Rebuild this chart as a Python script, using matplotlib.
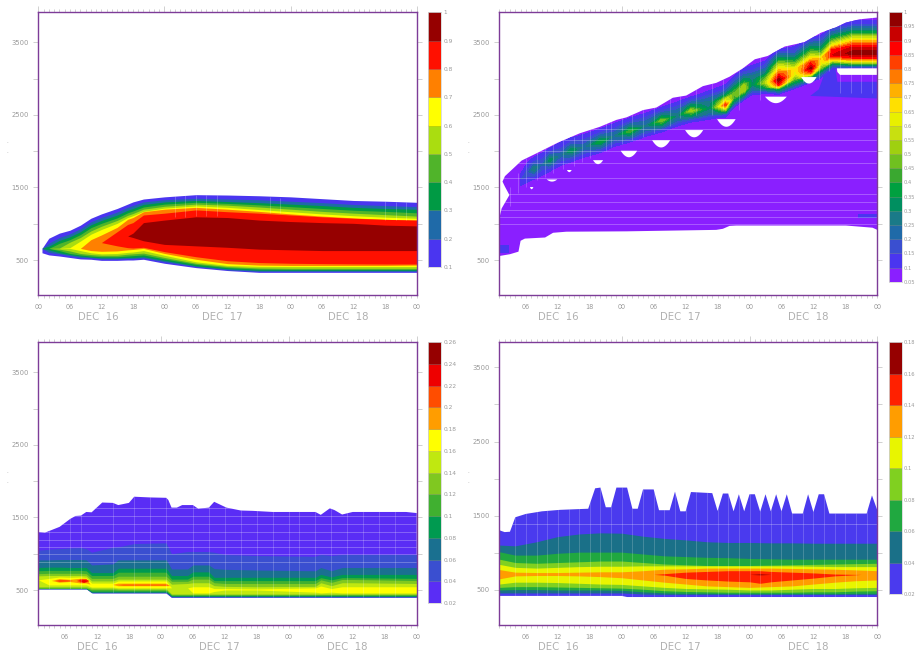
import numpy as np
from matplotlib import pyplot as plt
from matplotlib.ticker import FixedLocator, NullFormatter

# hours since Dec 16 00, heights in metres
nan = float('nan')

# ---- top left
p1_levels = [0.1, 0.2, 0.3, 0.4, 0.5, 0.6, 0.7, 0.8, 0.9, 1]
p1_colors = ['#4a35f0', '#1f6aa8', '#009a44', '#50b42a', '#aadd10',
             '#ffff00', '#ff8000', '#ff1000', '#960000']
p1_times = [0.7, 2, 4, 6, 8, 10, 12, 15, 17, 18, 20, 24, 30, 36, 42, 48, 54, 60, 66, 72]
p1_upper = [
    [660, 800, 870, 910, 980, 1075, 1135, 1210, 1270, 1300, 1340, 1370, 1400, 1395, 1385, 1370, 1345, 1320, 1310, 1295],
    [660, 730, 810, 860, 930, 1025, 1085, 1160, 1225, 1250, 1300, 1330, 1350, 1340, 1330, 1310, 1290, 1265, 1250, 1235],
    [660, 690, 770, 820, 890, 985, 1045, 1120, 1185, 1210, 1265, 1300, 1320, 1305, 1290, 1270, 1250, 1225, 1210, 1200],
    [660, 660, 730, 780, 850, 945, 1005, 1080, 1150, 1175, 1230, 1270, 1295, 1280, 1260, 1235, 1210, 1185, 1170, 1150],
    [660, 660, 665, 745, 810, 900, 965, 1045, 1115, 1140, 1200, 1240, 1270, 1255, 1230, 1200, 1170, 1145, 1125, 1105],
    [660, 660, 660, 670, 760, 855, 920, 1005, 1085, 1110, 1170, 1215, 1245, 1225, 1195, 1165, 1135, 1110, 1090, 1075],
    [660, 660, 660, 660, 660, 780, 845, 950, 1060, 1085, 1165, 1200, 1225, 1200, 1170, 1135, 1105, 1080, 1060, 1050],
    [740, 740, 740, 740, 740, 740, 740, 890, 990, 1015, 1120, 1145, 1190, 1165, 1145, 1120, 1095, 1075, 1060, 1050],
    [830, 830, 830, 830, 830, 830, 830, 830, 830, 870, 1015, 1050, 1095, 1085, 1050, 1030, 1015, 1005, 980, 970],
]
p1_lower = [
    [600, 570, 555, 535, 515, 510, 495, 495, 500, 500, 510, 455, 395, 355, 330, 330, 330, 330, 330, 330],
    [660, 605, 585, 560, 535, 530, 515, 515, 520, 520, 530, 477, 410, 365, 345, 345, 345, 345, 345, 345],
    [660, 640, 600, 575, 555, 540, 530, 530, 535, 535, 545, 495, 420, 380, 358, 358, 358, 358, 358, 358],
    [660, 660, 630, 590, 570, 555, 545, 545, 555, 560, 570, 515, 440, 395, 375, 370, 370, 370, 370, 370],
    [660, 660, 650, 625, 590, 575, 565, 565, 580, 585, 595, 535, 455, 410, 390, 385, 385, 385, 385, 385],
    [660, 660, 660, 660, 630, 600, 585, 590, 605, 610, 630, 565, 475, 425, 412, 410, 410, 410, 410, 410],
    [660, 660, 660, 660, 660, 630, 620, 625, 640, 645, 660, 590, 510, 450, 430, 425, 425, 425, 425, 430],
    [740, 740, 740, 740, 740, 740, 740, 695, 670, 665, 675, 615, 545, 490, 465, 455, 450, 447, 445, 445],
    [830, 830, 830, 830, 830, 830, 830, 830, 830, 810, 765, 715, 695, 675, 650, 640, 630, 630, 630, 630],
]

# ---- top right
p2_levels = [0.05, 0.1, 0.15, 0.2, 0.25, 0.3, 0.35, 0.4, 0.45, 0.5, 0.55, 0.6,
             0.65, 0.7, 0.75, 0.8, 0.85, 0.9, 0.95, 1]
p2_colors = ['#8a1fff', '#4a35f0', '#3a4fd0', '#1f6aa8', '#1a7a88', '#008f60',
             '#00a040', '#3aa830', '#70c020', '#9fd010', '#c8e010', '#e8f000',
             '#ffe000', '#ffb000', '#ff7a00', '#ff4000', '#ff0000', '#c80000', '#900000']
# outline of the whole cloud, walked round from bottom left
p2_outline_t = [1, 1, 1.44, 2.9, 2.06, 1.6, 2.06, 3.6, 5.2, 8, 12.1, 16.1, 19.9, 23, 24.9,
                28, 30.5, 33.6, 36.1, 39.25, 41.75, 44.25, 46.75, 49, 51.4, 54.6, 58.3,
                61.4, 64.25, 66.1, 68.6, 72, 72, 71.1, 68.6, 66.1, 45.5, 44.25, 43, 41.75,
                24.9, 13.6, 11.1, 9.6, 5.8, 5, 4.6, 3]
p2_outline_h = [555, 1075, 1210, 1395, 1510, 1580, 1655, 1760, 1870, 1970, 2120, 2245, 2335,
                2430, 2465, 2565, 2600, 2735, 2765, 2895, 2940, 3025, 3140, 3265, 3310, 3440,
                3500, 3630, 3705, 3770, 3815, 3840, 915, 945, 960, 975, 975, 970, 930, 915,
                895, 890, 875, 810, 795, 765, 615, 580]
# ridge of higher values, stored as height above the ridge centre
p2_ridge_t = [5, 6.5, 7.5, 9, 10.5, 12.5, 14.5, 17, 20, 22.5, 25.5, 28.5, 31.5, 34.5, 37, 40.5,
              42, 43.5, 45, 47, 48.5, 51, 53.5, 56.5, 59.5, 61.5, 63.5, 67.5, 72]
p2_ridge_h = [1600, 1715, 1755, 1810, 1875, 1945, 2005, 2060, 2130, 2205, 2275, 2345, 2420, 2490,
              2555, 2590, 2610, 2635, 2725, 2840, 2910, 2940, 2980, 3060, 3145, 3210, 3325, 3350, 3350]
p2_ridge_off = [-300, -200, -130, -70, 0, 70, 130, 200, 300, 400, 500]
p2_ridge = [
    [.05, .05, .06, .10, .14, .11, .07, .05, .05, .05, .05],
    [.05, .05, .10, .14, .20, .14, .11, .06, .05, .05, .05],
    [.05, .05, .11, .19, .30, .19, .12, .07, .05, .05, .05],
    [.05, .05, .11, .15, .20, .15, .12, .07, .05, .05, .05],
    [.05, .05, .12, .21, .33, .21, .13, .07, .05, .05, .05],
    [.05, .05, .11, .16, .22, .16, .13, .08, .05, .05, .05],
    [.05, .05, .12, .22, .35, .22, .14, .08, .05, .05, .05],
    [.05, .05, .11, .17, .23, .17, .13, .08, .05, .05, .05],
    [.05, .05, .12, .24, .40, .24, .14, .08, .05, .05, .05],
    [.05, .05, .11, .18, .24, .18, .13, .08, .05, .05, .05],
    [.05, .05, .12, .26, .44, .26, .15, .08, .05, .05, .05],
    [.05, .05, .11, .19, .25, .20, .14, .08, .05, .05, .05],
    [.05, .05, .13, .29, .50, .29, .16, .08, .05, .05, .05],
    [.05, .05, .11, .20, .27, .21, .15, .09, .05, .05, .05],
    [.05, .05, .13, .32, .54, .33, .17, .09, .05, .05, .05],
    [.05, .05, .12, .23, .30, .27, .22, .13, .06, .05, .05],
    [.05, .05, .12, .30, .55, .42, .25, .15, .07, .05, .05],
    [.05, .05, .15, .50, .85, .60, .35, .18, .08, .05, .05],
    [.05, .05, .10, .25, .42, .45, .35, .22, .10, .05, .05],
    [.05, .05, .10, .30, .55, .52, .35, .22, .10, .05, .05],
    [.05, .05, .10, .20, .30, .28, .25, .15, .08, .05, .05],
    [.05, .05, .12, .35, .55, .45, .30, .20, .10, .05, .05],
    [.05, .08, .35, .85, .98, .85, .72, .58, .33, .12, .05],
    [.05, .09, .30, .45, .60, .65, .50, .35, .18, .08, .05],
    [.05, .09, .35, .80, .97, .85, .68, .50, .30, .12, .05],
    [.05, .09, .25, .45, .62, .68, .50, .35, .20, .08, .05],
    [.05, .08, .30, .65, .90, .85, .65, .45, .22, .10, .05],
    [.05, .10, .55, .85, .98, .92, .80, .62, .33, .13, .06],
    [.05, .10, .55, .85, .98, .92, .80, .62, .33, .13, .06],
]
# white gaps under the ridge
p2_gap_start = [6.75, 9.9, 13.7, 18.6, 23.8, 29.7, 35.9, 41.9, 50.9, 57.7]
p2_gap_end = [7.4, 11.9, 14.6, 20.5, 26.9, 33.1, 39.3, 45.4, 55, 60.6]
p2_gap_top = [1505, 1610, 1740, 1875, 2005, 2150, 2290, 2440, 2750, 3020]
p2_gap_bottom = [1475, 1580, 1710, 1820, 1915, 2050, 2190, 2335, 2660, 2930]
p2_plateau_t = [64.4, 72, 72, 65, 64.5]
p2_plateau_h = [3140, 3140, 3050, 3050, 3090]
# blue 0.1-0.15 patches inside the purple
p2_blue_t = [[1, 2.9], [68.3, 72]]
p2_blue_upper = [[705, 705], [1140, 1140]]
p2_blue_lower = [[600, 600], [1075, 1075]]
p2_shelf_t = [59.4, 61, 62, 63, 64.1, 64.5, 72, 72]
p2_shelf_h = [2760, 2850, 3050, 3200, 3150, 2955, 2955, 2725]

# ---- bottom left
p3_levels = [0.02, 0.04, 0.06, 0.08, 0.1, 0.12, 0.14, 0.16, 0.18, 0.2, 0.22, 0.24, 0.26]
p3_colors = ['#5a2df5', '#3a4fd0', '#1a7090', '#009a50', '#40b030', '#80c820',
             '#c0e810', '#ffff00', '#ff9d00', '#ff4d00', '#ee0000', '#960000']
p3_outline_t = [1, 2.25, 5, 7, 8, 9, 10, 11, 13, 15, 16, 18, 19, 22, 25, 25.4, 26, 27, 28, 30, 31,
                33, 34, 36.3, 39, 41.3, 45, 53, 54, 55.7, 56.6, 58, 60, 70, 72,
                72, 26, 25, 11.3, 10.4, 1]
p3_outline_h = [1300, 1290, 1370, 1480, 1520, 1525, 1575, 1570, 1705, 1700, 1670, 1700, 1785, 1775,
                1770, 1740, 1635, 1635, 1670, 1670, 1620, 1635, 1715, 1635, 1595, 1590, 1575, 1575,
                1535, 1625, 1600, 1540, 1575, 1575, 1560,
                395, 395, 455, 455, 510, 510]
p3_times = [1, 3, 5, 7, 9, 10, 11, 15, 16, 19, 25, 26, 29, 30, 33, 34, 36, 42, 53, 54, 56, 58, 60, 72]
p3_upper = [
    [1050, 1060, 1070, 1080, 1085, 1070, 1020, 1090, 1095, 1140, 1150, 1000, 1030, 1030, 1030, 1020, 990, 975, 965, 990, 975, 990, 990, 990],
    [915, 915, 920, 920, 920, 915, 845, 860, 915, 915, 915, 790, 790, 845, 845, 795, 785, 775, 765, 810, 765, 810, 810, 810],
    [810, 815, 815, 810, 810, 810, 740, 740, 800, 800, 800, 700, 700, 750, 750, 675, 675, 675, 675, 715, 680, 715, 715, 715],
    [765, 770, 770, 770, 770, 765, 700, 700, 745, 745, 745, 650, 650, 690, 690, 630, 630, 630, 630, 670, 640, 670, 670, 660],
    [725, 730, 730, 730, 730, 725, 660, 660, 690, 690, 690, 620, 620, 650, 650, 600, 590, 590, 590, 640, 605, 645, 645, 630],
    [695, 700, 700, 700, 700, 695, 625, 625, 650, 650, 650, 580, 590, 600, 600, 560, 550, 545, 550, 600, 560, 600, 600, 590],
    [640, 660, 680, 675, 680, 670, 595, 595, 625, 625, 625, 530, 530, 545, 545, 520, 520, 515, 530, 555, 520, 545, 545, 545],
]
p3_lower = [
    [515, 515, 515, 515, 515, 515, 460, 460, 460, 460, 460, 400, 400, 400, 400, 400, 400, 400, 400, 400, 400, 400, 400, 400],
    [518, 518, 518, 518, 518, 518, 465, 465, 465, 465, 465, 410, 410, 410, 410, 410, 410, 410, 410, 410, 410, 410, 410, 410],
    [520, 520, 520, 520, 520, 520, 475, 475, 475, 475, 475, 415, 415, 415, 415, 415, 415, 415, 415, 415, 415, 415, 415, 415],
    [522, 522, 522, 522, 522, 522, 485, 485, 485, 485, 485, 425, 425, 425, 425, 425, 425, 425, 425, 425, 425, 425, 425, 425],
    [530, 530, 530, 530, 530, 530, 505, 505, 500, 500, 500, 435, 435, 435, 435, 435, 435, 435, 435, 435, 435, 435, 435, 435],
    [545, 545, 545, 545, 545, 545, 525, 525, 515, 515, 515, 445, 445, 445, 445, 445, 445, 445, 445, 445, 445, 445, 445, 445],
    [640, 570, 570, 570, 570, 570, 540, 540, 530, 530, 530, 530, 530, 460, 460, 480, 500, 500, 470, 460, 470, 460, 460, 460],
]
# warm levels exist only in short stretches, nan breaks the stretch
p3_warm_t = [
    [3.5, 5, 7, 9, 10, 10.8, nan, 15, 16, 25, 25.8],
    [4.2, 5, 6.5, 7.5, nan, 8.2, 9, 10, 10.6, nan, 16, 17, 25, 25.5],
    [8.5, 9.5, 10.4],
]
p3_warm_upper = [
    [625, 650, 640, 655, 655, 575, nan, 570, 588, 588, 555],
    [625, 640, 635, 625, nan, 625, 650, 650, 620, nan, 568, 574, 574, 562],
    [635, 645, 635],
]
p3_warm_lower = [
    [625, 600, 610, 590, 590, 575, nan, 570, 552, 552, 555],
    [625, 610, 615, 625, nan, 625, 600, 600, 620, nan, 568, 562, 562, 562],
    [635, 605, 635],
]

# ---- bottom right
p4_levels = [0.02, 0.04, 0.06, 0.08, 0.1, 0.12, 0.14, 0.16, 0.18]
p4_colors = ['#4a3aee', '#1a7088', '#20a840', '#80d020', '#e8f500', '#ff9d00', '#ff2000', '#960000']
p4_outline_t = [1, 2, 3, 4, 6, 9, 12.4, 17.7, 19, 20, 21, 22, 23, 25, 26, 27, 28, 30, 31, 33, 34, 35, 36,
                37, 41, 42, 43, 44, 45, 46, 47, 48, 49, 50, 51, 52, 53, 54, 55, 56, 58, 59, 60, 61, 62,
                63, 70, 71, 72, 72, 25, 24, 1]
p4_outline_h = [1305, 1280, 1285, 1480, 1525, 1560, 1580, 1595, 1870, 1880, 1615, 1615, 1880, 1880, 1595,
                1595, 1855, 1855, 1575, 1575, 1825, 1560, 1560, 1820, 1805, 1565, 1800, 1800, 1560, 1790,
                1560, 1790, 1790, 1555, 1790, 1560, 1790, 1560, 1790, 1530, 1530, 1790, 1550, 1790, 1790,
                1530, 1530, 1775, 1575, 405, 405, 420, 420]
p4_times = [1, 4, 8, 12, 16, 20, 24, 28, 32, 36, 40, 44, 48, 52, 56, 60, 64, 68, 72]
p4_upper = [
    [1105, 1095, 1150, 1220, 1255, 1270, 1265, 1225, 1195, 1175, 1150, 1140, 1140, 1135, 1135, 1130, 1130, 1130, 1130],
    [1015, 970, 970, 995, 1010, 1010, 1010, 985, 960, 950, 940, 935, 925, 920, 915, 915, 915, 915, 915],
    [915, 870, 860, 870, 880, 890, 890, 870, 850, 840, 830, 830, 830, 835, 840, 845, 850, 855, 860],
    [845, 805, 795, 805, 815, 820, 820, 825, 825, 825, 825, 825, 825, 825, 825, 820, 815, 815, 815],
    [775, 740, 735, 735, 740, 745, 745, 760, 780, 785, 795, 795, 795, 795, 790, 785, 780, 770, 760],
]
p4_lower = [
    [460, 460, 460, 460, 460, 460, 460, 445, 440, 440, 440, 440, 440, 440, 440, 440, 440, 440, 440],
    [500, 505, 505, 500, 500, 500, 495, 475, 460, 455, 455, 450, 450, 450, 450, 450, 450, 455, 455],
    [535, 545, 545, 540, 535, 530, 525, 510, 490, 480, 475, 470, 470, 470, 470, 475, 475, 485, 490],
    [580, 605, 605, 600, 590, 580, 575, 555, 535, 520, 515, 510, 500, 500, 510, 520, 520, 530, 535],
    [650, 690, 695, 695, 690, 680, 665, 635, 605, 580, 555, 545, 535, 545, 555, 580, 605, 625, 635],
]
p4_red_t = [30, 32, 36, 40, 44, 48, 50, 52, 56, 60, 64, 68, 69]
p4_red_upper = [710, 720, 740, 750, 760, 760, 760, 750, 740, 730, 715, 710, 710]
p4_red_lower = [710, 700, 655, 635, 620, 610, 590, 610, 635, 660, 690, 705, 710]
p4_dark_t = [48, 50, 52]
p4_dark_upper = [710, 718, 710]
p4_dark_lower = [710, 704, 710]

# faint lines left by the plotting package between its polygons
p1_seams_t = [26, 28, 30, 32, 34, 44, 46, 66, 68, 70]
p1_seams_lo = [1090, 1090, 1100, 1100, 1100, 1150, 1150, 1050, 1050, 1050]
p1_seams_hi = [1380, 1390, 1400, 1400, 1395, 1370, 1360, 1310, 1305, 1300]
p2_seams = [2300, 2153, 1997, 1830, 1630, 1405, 1294, 1189, 1097, 996]
p2_seams_t = [3, 4.5, 6, 8, 9.5, 11, 13, 15, 16.5, 18, 21, 22, 24, 26, 28, 30, 33, 35, 38, 41, 43,
              46, 50, 53, 55, 58, 61, 63, 65, 67, 69, 71]
p2_seams_lo = [1250, 1420, 1500, 1600, 1650, 1700, 1750, 1800, 1850, 1900, 2000, 2050, 2100, 2150, 2200,
               2250, 2350, 2450, 2500, 2500, 2560, 2560, 2700, 2850, 2900, 2950, 3000, 3100, 2800, 2800,
               2800, 2800]
p2_seams_hi = [1500, 1700, 1900, 2000, 2050, 2100, 2150, 2200, 2250, 2300, 2400, 2450, 2500, 2550, 2600,
               2650, 2750, 2800, 2900, 2950, 3000, 3150, 3300, 3400, 3500, 3600, 3700, 3750, 3800, 3800,
               3850, 3850]
p3_seams = [1630, 1520, 1405, 1295, 1190, 1095, 996, 890]
p4_seams = [1385]
p3_seams_t = [3, 7, 9, 15, 19, 22, 25, 30, 33, 36, 39, 42, 45, 48, 50, 53, 56, 59, 62, 65, 68]
p4_seams_t = [4, 6, 8, 10, 12, 14, 16, 18, 20, 22, 24, 26, 28, 30, 32, 34, 36, 38, 40, 42, 44, 46,
              48, 50, 52, 54, 56, 58, 60, 62, 64, 66, 68, 70]

y_ticks = [500, 1000, 1500, 2000, 2500, 3000, 3500]
y_labels = ['500', '', '1500', '', '2500', '', '3500']
day_names = ['DEC  16', 'DEC  17', 'DEC  18']
day_centres = [[11.5, 35, 59], [12, 35, 59], [12, 35, 59], [12, 35, 59]]

W, H = 916, 653
FRAME = '#7d3c98'
TICK = '#bdbdbd'
TEXT = '#9a9a9a'


def make_axes(fig, box, t0, ylim):
    # box is left, top, right, bottom in pixels of the image
    l, t, r, b = box
    ax = fig.add_axes([l / W, 1 - b / H, (r - l) / W, (b - t) / H])
    ax.set_xlim(t0, 72)
    ax.set_ylim(*ylim)
    for s in ax.spines.values():
        s.set_color(FRAME)
        s.set_linewidth(1.0)
    ax.set_xticks(np.arange(0, 73, 6)[np.arange(0, 73, 6) >= t0])
    ax.set_xticklabels(['%02d' % (h % 24) for h in ax.get_xticks()])
    ax.xaxis.set_minor_locator(FixedLocator(np.arange(t0, 73)))
    ax.tick_params(axis='x', which='both', length=2.2, width=0.5, color=TICK, labelsize=4.7,
                   labelcolor=TEXT, pad=4.2)
    ax.set_yticks(y_ticks)
    ax.set_yticklabels(y_labels)
    ax.tick_params(axis='y', length=3.8, width=0.5, color=TICK, labelsize=4.9, labelcolor=TEXT,
                   pad=3, right=True)
    top = ax.secondary_xaxis('top')
    top.set_xticks([0, 24, 48, 72])
    top.xaxis.set_minor_locator(FixedLocator(np.arange(t0, 73)))
    top.xaxis.set_major_formatter(NullFormatter())
    top.tick_params(which='major', length=4.3, width=0.5, color=TICK)
    top.tick_params(which='minor', length=2.2, width=0.5, color=TICK)
    top.spines['top'].set_visible(False)
    return ax


def day_labels(ax, centres):
    for name, c in zip(day_names, centres):
        ax.annotate(name, xy=(c, 0), xycoords=('data', 'axes fraction'), xytext=(0, -15.8),
                    textcoords='offset points', ha='center', va='center', fontsize=7.3, color='#b0b0b0')


def colorbar(fig, box, levels, colors, labelsize=4.2, pad=2):
    l, t, r, b = box
    cax = fig.add_axes([l / W, 1 - b / H, (r - l) / W, (b - t) / H])
    cax.bar([0] * len(colors), np.diff(levels), bottom=levels[:-1], width=1, align='edge', color=colors,
            edgecolor='#00000033', linewidth=0.4)
    cax.set_xlim(0, 1)
    cax.set_ylim(levels[0], levels[-1])
    cax.set_xticks([])
    cax.yaxis.tick_right()
    cax.set_yticks(levels)
    cax.set_yticklabels(['%g' % v for v in levels])
    cax.tick_params(axis='y', length=0, labelsize=labelsize, labelcolor=TEXT, pad=pad)
    for s in cax.spines.values():
        s.set_color('#cfcfcf')
        s.set_linewidth(0.5)
    return cax


def bands(ax, times, upper, lower, colors):
    for up, lo, c in zip(upper, lower, colors):
        ax.fill_between(times, lo, up, color=c, linewidth=0)


def seams(ax, patch, heights, hours):
    for h in heights:
        ax.axhline(h, color='white', alpha=0.3, lw=0.6, clip_path=patch)
    for t in hours:
        ax.axvline(t, color='white', alpha=0.22, lw=0.6, clip_path=patch)


fig = plt.figure(figsize=(W / 100, H / 100), dpi=100)

# top left
ax1 = make_axes(fig, (38.3, 12.3, 416.7, 295), 0, (18, 3912))
bands(ax1, p1_times, p1_upper, p1_lower, p1_colors)
ax1.vlines(p1_seams_t, p1_seams_lo, p1_seams_hi, colors='white', alpha=0.25, lw=0.6)
day_labels(ax1, day_centres[0])
colorbar(fig, (428, 12.3, 440.7, 267), p1_levels, p1_colors)

# top right
ax2 = make_axes(fig, (499.3, 12.3, 877.3, 295), 1, (18, 3912))
cloud2 = ax2.fill(p2_outline_t, p2_outline_h, color=p2_colors[0], linewidth=0)[0]
for t, up, lo in zip(p2_blue_t, p2_blue_upper, p2_blue_lower):
    ax2.fill_between(t, lo, up, color=p2_colors[1], linewidth=0)
ax2.fill(p2_shelf_t, p2_shelf_h, color=p2_colors[1], linewidth=0)
seams(ax2, cloud2, p2_seams, [])
ridge_x = np.tile(np.array(p2_ridge_t)[:, None], (1, len(p2_ridge_off)))
ridge_y = np.array(p2_ridge_h)[:, None] + np.array(p2_ridge_off)[None, :]
ridge = ax2.contourf(ridge_x, ridge_y, np.array(p2_ridge), levels=p2_levels[1:], colors=p2_colors[1:])
ridge.set_clip_path(cloud2)
ax2.vlines(p2_seams_t, p2_seams_lo, p2_seams_hi, colors='white', alpha=0.25, lw=0.6, clip_path=cloud2)
for t0, t1, top, bot in zip(p2_gap_start, p2_gap_end, p2_gap_top, p2_gap_bottom):
    s = np.linspace(-1, 1, 15)
    ax2.fill((t0 + t1) / 2 + s * (t1 - t0) / 2, bot + (top - bot) * s ** 2, color='white', linewidth=0)
ax2.fill(p2_plateau_t, p2_plateau_h, color='white', linewidth=0)
day_labels(ax2, day_centres[1])
colorbar(fig, (889, 12.3, 901.7, 281.7), p2_levels, p2_colors, 3.7, 1.5)

# bottom left
ax3 = make_axes(fig, (38.3, 342.3, 416.7, 625), 1, (18, 3912))
cloud3 = ax3.fill(p3_outline_t, p3_outline_h, color=p3_colors[0], linewidth=0)[0]
bands(ax3, p3_times, p3_upper, p3_lower, p3_colors[1:])
for t, up, lo, c in zip(p3_warm_t, p3_warm_upper, p3_warm_lower, p3_colors[8:]):
    ax3.fill_between(t, lo, up, color=c, linewidth=0)
seams(ax3, cloud3, p3_seams, p3_seams_t)
day_labels(ax3, day_centres[2])
colorbar(fig, (428, 342.3, 441, 603), p3_levels, p3_colors)

# bottom right
ax4 = make_axes(fig, (499.3, 342.3, 877.3, 625), 1, (28, 3838))
cloud4 = ax4.fill(p4_outline_t, p4_outline_h, color=p4_colors[0], linewidth=0)[0]
bands(ax4, p4_times, p4_upper, p4_lower, p4_colors[1:])
ax4.fill_between(p4_red_t, p4_red_lower, p4_red_upper, color=p4_colors[6], linewidth=0)
ax4.fill_between(p4_dark_t, p4_dark_lower, p4_dark_upper, color=p4_colors[7], linewidth=0)
seams(ax4, cloud4, p4_seams, p4_seams_t)
day_labels(ax4, day_centres[3])
colorbar(fig, (889, 342.3, 902, 594), p4_levels, p4_colors, 3.7, 1.5)

# two specks left of each panel, what is left of the axis title
for x in (7, 468):
    for y in (143, 153, 473, 483):
        fig.text(x / W, 1 - y / H, '.', fontsize=4, color=TEXT, ha='center', va='baseline')

fig.savefig('out.png', dpi=100)
